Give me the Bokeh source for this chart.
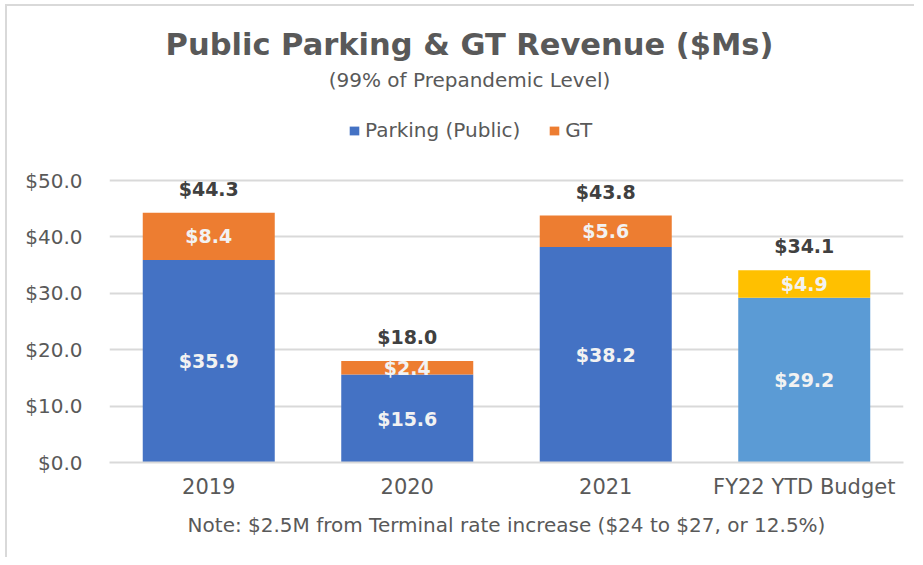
from bokeh.plotting import figure
from bokeh.models import (ColumnDataSource, FactorRange, Range1d, FixedTicker,
                          NumeralTickFormatter, Label, Legend, LegendItem)
from bokeh.transform import stack
from bokeh.core.properties import value
from bokeh.embed import file_html
from bokeh.resources import INLINE

categories = ["2019", "2020", "2021", "FY22 YTD Budget"]
parking = [35.9, 15.6, 38.2, 29.2]
gt = [8.4, 2.4, 5.6, 4.9]
totals = [44.3, 18.0, 43.8, 34.1]
parking_colors = ["#4472C4", "#4472C4", "#4472C4", "#5B9BD5"]
gt_colors = ["#ED7D31", "#ED7D31", "#ED7D31", "#FFC000"]
y_ticks = [0, 10, 20, 30, 40, 50]
series_names = ["Parking (Public)", "GT"]

title_text = "Public Parking & GT Revenue ($Ms)"
subtitle_text = "(99% of Prepandemic Level)"
note_text = "Note: $2.5M from Terminal rate increase ($24 to $27, or 12.5%)"

FONT = "DejaVu Sans"
GREY = "#595959"

src = ColumnDataSource(dict(
    cat=categories, parking=parking, gt=gt, total=totals,
    pc=parking_colors, gc=gt_colors,
    p_mid=[v / 2 for v in parking],
    g_mid=[a + b / 2 for a, b in zip(parking, gt)],
    p_lbl=[f"${v:.1f}" for v in parking],
    g_lbl=[f"${v:.1f}" for v in gt],
    t_lbl=[f"${v:.1f}" for v in totals],
))

p = figure(x_range=FactorRange(*categories), y_range=Range1d(0, 79.8),
           frame_width=794, frame_height=450,
           min_border_left=102, min_border_right=11,
           min_border_top=6, min_border_bottom=95,
           output_backend="svg", toolbar_location=None)
p.styles = {"border-left": "2px solid #D9D9D9", "border-top": "2px solid #D9D9D9",
            "margin-left": "5px", "margin-top": "4px"}

r1 = p.vbar(x="cat", bottom=0, top="parking", width=0.665,
            fill_color="pc", line_color=None, source=src)
r2 = p.vbar(x="cat", bottom=stack("parking"), top=stack("parking", "gt"), width=0.665,
            fill_color="gc", line_color=None, source=src)

p.text(x="cat", y="p_mid", text="p_lbl", source=src, text_align="center",
       text_baseline="middle", text_font=value(FONT), text_font_style="bold",
       text_font_size="19px", text_color="#F2F2F2")
p.text(x="cat", y="g_mid", text="g_lbl", source=src, text_align="center",
       text_baseline="middle", text_font=value(FONT), text_font_style="bold",
       text_font_size="19px", text_color="#F2F2F2")
p.text(x="cat", y="total", text="t_lbl", source=src, text_align="center",
       text_baseline="middle", y_offset=-24, text_font=value(FONT),
       text_font_style="bold", text_font_size="19px", text_color="#404040")

legend = Legend(items=[LegendItem(label=series_names[0], renderers=[r1], index=0),
                       LegendItem(label=series_names[1], renderers=[r2], index=0)],
                orientation="horizontal", location=(239, 320), padding=0, margin=0,
                spacing=28, glyph_width=12, glyph_height=11, label_standoff=5,
                label_text_font=FONT, label_text_font_size="20px",
                label_text_color=GREY, border_line_color=None,
                background_fill_alpha=0)
p.add_layout(legend)

p.add_layout(Label(x=360, y=418.5, x_units="screen", y_units="screen", text=title_text,
                   text_align="center", text_baseline="middle", text_font=FONT,
                   text_font_size="30.5px", text_font_style="bold", text_color=GREY))
p.add_layout(Label(x=360, y=382.5, x_units="screen", y_units="screen", text=subtitle_text,
                   text_align="center", text_baseline="middle", text_font=FONT,
                   text_font_size="20px", text_color=GREY))

p.xaxis.axis_label = note_text
p.xaxis.axis_label_text_font = FONT
p.xaxis.axis_label_text_font_size = "20px"
p.xaxis.axis_label_text_font_style = "normal"
p.xaxis.axis_label_text_color = GREY
p.xaxis.axis_label_standoff = 11
p.xaxis.axis_line_color = "#D9D9D9"
p.xaxis.axis_line_width = 2
p.xaxis.major_tick_line_color = None
p.xaxis.minor_tick_line_color = None
p.xaxis.major_label_text_font = FONT
p.xaxis.major_label_text_font_size = "21px"
p.xaxis.major_label_text_color = GREY
p.xaxis.major_label_standoff = 6

p.yaxis.ticker = FixedTicker(ticks=y_ticks)
p.yaxis.formatter = NumeralTickFormatter(format="$0.0")
p.yaxis.axis_line_color = None
p.yaxis.major_tick_line_color = None
p.yaxis.minor_tick_line_color = None
p.yaxis.major_label_text_font = FONT
p.yaxis.major_label_text_font_size = "20px"
p.yaxis.major_label_text_color = GREY
p.yaxis.major_label_standoff = 21

p.ygrid.grid_line_color = "#D9D9D9"
p.ygrid.grid_line_width = 2
p.xgrid.grid_line_color = None
p.outline_line_color = None

open("out.html", "w").write(file_html(p, INLINE))
